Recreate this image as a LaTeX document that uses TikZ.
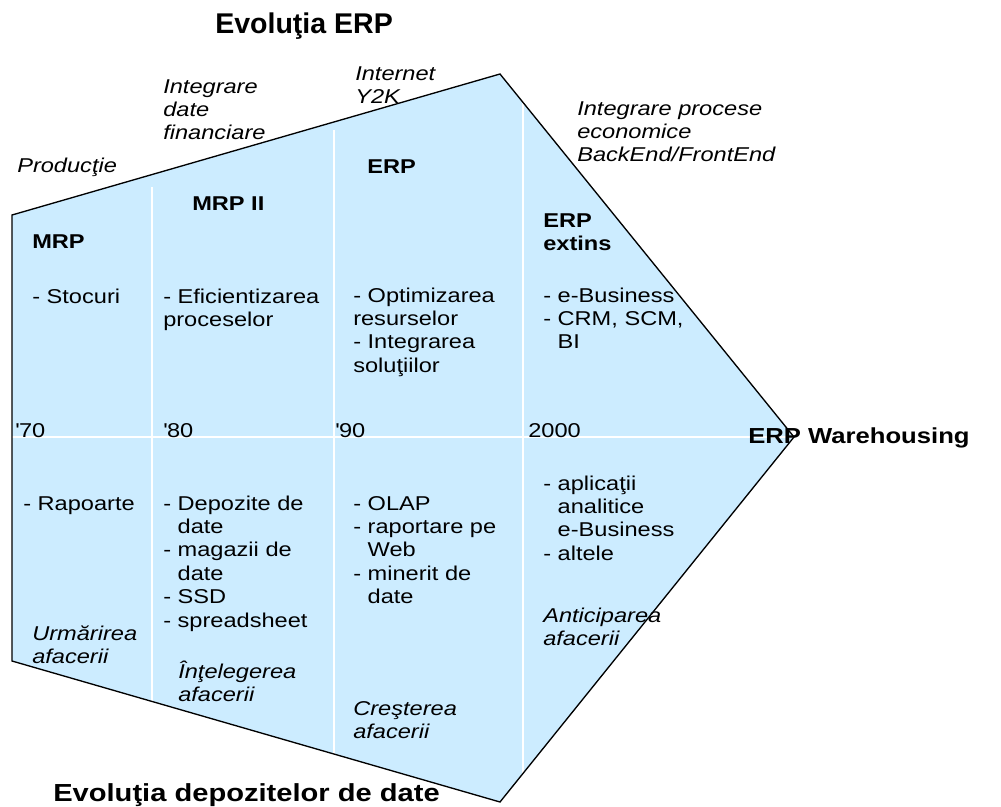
\documentclass[tikz,border=0pt]{standalone}
\usepackage{fontspec}
\setmainfont{Liberation Sans}[FakeStretch=1.18]
\newfontfamily\plainsans{Liberation Sans}
\definecolor{erpblue}{RGB}{204,236,255}
\newcommand{\stack}[1]{\begin{tabular}[t]{@{}l@{}}#1\end{tabular}}

\begin{document}
\begin{tikzpicture}[x=0.75pt,y=-0.75pt,
  txt/.style={anchor=base west,inner sep=0pt,font=\fontsize{15}{17.6}\selectfont},
  bold/.style={txt,font=\fontsize{15}{17.6}\selectfont\bfseries},
  ital/.style={txt,font=\fontsize{15}{17.6}\selectfont\itshape},
  divider/.style={white,line width=1.3pt}]
\useasboundingbox (0,0) rectangle (1001,807);

% pentagon
\coordinate (tl) at (12,215);
\coordinate (tp) at (500,74);
\coordinate (rt) at (794,437);
\coordinate (bt) at (500,802);
\coordinate (bl) at (12,661);
\fill[erpblue] (tl) -- (tp) -- (rt) -- (bt) -- (bl) -- cycle;
\begin{scope}
\clip (tl) -- (tp) -- (rt) -- (bt) -- (bl) -- cycle;
\draw[divider] (152,187) -- (152,807);
\draw[divider] (334,130) -- (334,807);
\draw[divider] (523,0) -- (523,807);
\draw[divider] (0,437) -- (1001,437);
\end{scope}
\draw[line width=1pt] (tl) -- (tp) -- (rt) -- (bt) -- (bl) -- cycle;

% titles
\path (215,33) node[txt,font=\plainsans\fontsize{21.4}{24}\selectfont\bfseries](ttlERP) {Evoluţia ERP}
(53,801) node[txt,font=\fontsize{18.5}{22}\selectfont\bfseries](ttlDep) {Evoluţia depozitelor de date}
(748,443) node[txt,font=\fontsize{16.3}{19}\selectfont\bfseries](ttlWh) {ERP Warehousing}
;

% upper half
\path (17,172) node[ital](prod) {Producţie}
(163,93) node[ital](integ) {\stack{Integrare\\date\\financiare}}
(355,80) node[ital](inet) {\stack{Internet\\Y2K}}
(577,115) node[ital](proc) {\stack{Integrare procese\\economice\\BackEnd/FrontEnd}}
(32,248) node[bold](mrp) {MRP}
(192,210) node[bold](mrpII) {MRP II}
(367,173) node[bold](erp) {ERP}
(543,227) node[bold](erpx) {\stack{ERP\\extins}}
(32,303) node[txt](stoc) {- Stocuri}
(163,303) node[txt](efic) {\stack{- Eficientizarea\\proceselor}}
(353,302) node[txt](optim) {\stack{- Optimizarea\\resurselor\\- Integrarea\\soluţiilor}}
(543,302) node[txt](ebiz) {\stack{- e-Business\\- CRM, SCM,\\\phantom{- }BI}}
;

% years
\path (15,437) node[txt](y70) {\textquotesingle 70}
(163,437) node[txt](y80) {\textquotesingle 80}
(335,437) node[txt](y90) {\textquotesingle 90}
(528,437) node[txt](y00) {2000}
;

% lower half
\path (23,510) node[txt](rap) {- Rapoarte}
(163,510) node[txt](depoz) {\stack{- Depozite de\\\phantom{- }date\\- magazii de\\\phantom{- }date\\- SSD\\- spreadsheet}}
(353,510) node[txt](olap) {\stack{- OLAP\\- raportare pe\\\phantom{- }Web\\- minerit de\\\phantom{- }date}}
(543,490) node[txt](aplic) {\stack{- aplicaţii\\\phantom{- }analitice\\\phantom{- }e-Business\\- altele}}
(32,640) node[ital](urm) {\stack{Urmărirea\\afacerii}}
(178,678) node[ital](intel) {\stack{Înţelegerea\\afacerii}}
(353,715) node[ital](cresc) {\stack{Creşterea\\afacerii}}
(543,622) node[ital](antic) {\stack{Anticiparea\\afacerii}}
;

\end{tikzpicture}
\end{document}
